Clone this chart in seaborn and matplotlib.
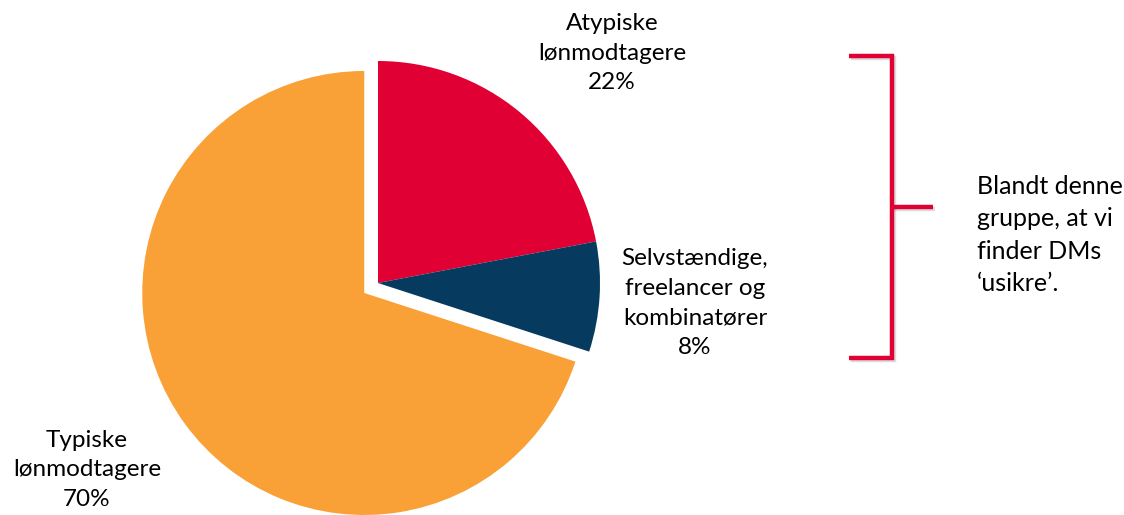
import matplotlib
matplotlib.use('Agg')
import matplotlib.pyplot as plt
import matplotlib.patheffects as pe
import seaborn as sns

# Data
categories = ['Atypiske\nlønmodtagere', 'Selvstændige,\nfreelancer og\nkombinatører', 'Typiske\nlønmodtagere']
shares = [22, 8, 70]
colors = ['#E00034', '#063A5E', '#F9A036']
note = 'Blandt denne\ngruppe, at vi\nfinder DMs\n\u2018usikre\u2019.'

sns.set_theme(style='white')
plt.rcParams['font.family'] = ['Lato', 'DejaVu Sans']

fig = plt.figure(figsize=(11.24, 5.15), dpi=100)
ax = fig.add_axes([0, 0, 1, 1])

# Pie in pixel-like coordinates (y up); explode is in data units here
ax.pie(shares, colors=colors, startangle=90, counterclock=False,
       explode=[0, 0, 17], center=(378, 232), radius=222,
       wedgeprops={'linewidth': 0})

ax.set_xlim(0, 1124)
ax.set_ylim(0, 515)
ax.set_aspect('equal')
ax.axis('off')

# Labels
txt = dict(fontsize=17.5, color='black', ha='center', va='center', linespacing=1.5)
ax.text(612, 462, f'{categories[0]}\n{shares[0]}%', **txt)
ax.text(695, 212, f'{categories[1]}\n{shares[1]}%', **txt)
ax.text(87, 45, f'{categories[2]}\n{shares[2]}%', **txt)
ax.text(977, 280, note, fontsize=18, color='black', ha='left', va='center', linespacing=1.5)

# Bracket
shadow = [pe.SimpleLineShadow(offset=(1.5, -1.5), alpha=0.15), pe.Normal()]
br = dict(color='#E00034', lw=3.2, solid_capstyle='butt', solid_joinstyle='miter', path_effects=shadow)
ax.plot([849, 892, 892, 849], [459, 459, 157, 157], **br)
ax.plot([892, 933], [308, 308], **br)

fig.savefig('out.png', dpi=100)
